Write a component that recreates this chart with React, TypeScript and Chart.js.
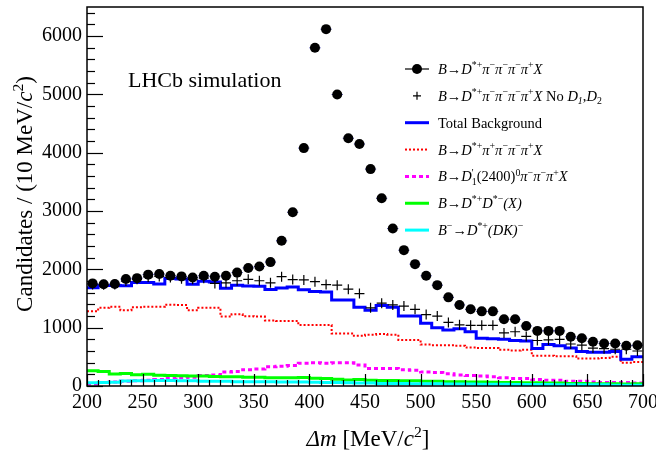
import React, { useEffect, useRef } from "react";
import { Chart, registerables } from "chart.js";

Chart.register(...registerables);

// ---------------- data ----------------
const binCenters = [
  205, 215, 225, 235, 245, 255, 265, 275, 285, 295,
  305, 315, 325, 335, 345, 355, 365, 375, 385, 395,
  405, 415, 425, 435, 445, 455, 465, 475, 485, 495,
  505, 515, 525, 535, 545, 555, 565, 575, 585, 595,
  605, 615, 625, 635, 645, 655, 665, 675, 685, 695,
];
const binEdges = [
  200, 210, 220, 230, 240, 250, 260, 270, 280, 290,
  300, 310, 320, 330, 340, 350, 360, 370, 380, 390,
  400, 410, 420, 430, 440, 450, 460, 470, 480, 490,
  500, 510, 520, 530, 540, 550, 560, 570, 580, 590,
  600, 610, 620, 630, 640, 650, 660, 670, 680, 690, 700,
];
const xTicks = [200, 250, 300, 350, 400, 450, 500, 550, 600, 650, 700];
const yTicks = [0, 1000, 2000, 3000, 4000, 5000, 6000];

// B -> D*+ pi- pi- pi- pi+ X (black dots)
const signalAll = [
  1760, 1745, 1750, 1835, 1850, 1910, 1920, 1890, 1880, 1860,
  1890, 1875, 1890, 1945, 2025, 2050, 2125, 2490, 2980, 4080,
  5800, 6120, 5000, 4250, 4150, 3720, 3220, 2700, 2330, 2090,
  1890, 1730, 1520, 1390, 1315, 1280, 1280, 1145, 1145, 1030,
  945, 945, 945, 845, 820, 760, 730, 730, 690, 700,
];
// same, no D1, D2 (crosses)
const signalNoD1D2 = [
  1740, 1735, 1740, 1800, 1830, 1870, 1880, 1860, 1840, 1830,
  1850, 1760, 1770, 1805, 1830, 1805, 1770, 1875, 1825, 1820,
  1790, 1740, 1730, 1660, 1585, 1340, 1420, 1390, 1370, 1315,
  1225, 1200, 1090, 1050, 1040, 1040, 1040, 910, 930, 850,
  780, 790, 800, 720, 700, 650, 640, 630, 630, 600,
];
// Total background (blue histogram)
const totalBkg = [
  1685, 1725, 1725, 1720, 1775, 1775, 1750, 1845, 1835, 1745,
  1795, 1785, 1675, 1730, 1715, 1712, 1655, 1680, 1700, 1650,
  1620, 1610, 1475, 1475, 1350, 1300, 1380, 1350, 1200, 1200,
  1075, 1000, 960, 980, 930, 820, 810, 800, 780, 770,
  645, 710, 690, 650, 590, 580, 580, 590, 460, 500,
];
// B -> D*+ pi+ pi- pi- pi+ X (red dotted)
const bkgPiPlus = [
  1280, 1340, 1360, 1300, 1350, 1360, 1360, 1395, 1390, 1300,
  1340, 1340, 1190, 1230, 1195, 1190, 1125, 1115, 1115, 1045,
  1045, 1045, 900, 900, 860, 880, 890, 880, 790, 790,
  710, 700, 700, 690, 660, 650, 650, 620, 610, 620,
  520, 520, 510, 510, 470, 470, 480, 500, 400, 410,
];
// B -> D'1(2400)0 pi- pi- pi+ X (magenta dashed)
const bkgD1prime = [
  40, 60, 70, 80, 90, 100, 110, 130, 140, 150,
  180, 190, 240, 250, 280, 290, 330, 340, 350, 390,
  400, 390, 400, 400, 360, 300, 300, 300, 280, 270,
  240, 230, 210, 190, 180, 170, 160, 140, 130, 130,
  110, 100, 100, 80, 80, 70, 60, 60, 60, 50,
];
// B -> D*+ D*- (X) (green)
const bkgDstDst = [
  260, 250, 205, 215, 195, 200, 185, 180, 175, 170,
  170, 165, 160, 160, 150, 150, 140, 140, 140, 145,
  135, 130, 115, 105, 110, 100, 95, 95, 90, 90,
  80, 80, 75, 75, 70, 70, 65, 60, 60, 55,
  55, 50, 50, 45, 45, 40, 40, 40, 35, 40,
];
// B- -> D*+ (DK)- (cyan)
const bkgDK = [
  55, 60, 65, 85, 90, 90, 95, 95, 90, 90,
  80, 80, 80, 75, 75, 75, 75, 70, 70, 70,
  65, 60, 60, 55, 50, 50, 45, 45, 45, 40,
  40, 40, 35, 35, 35, 30, 30, 30, 25, 25,
  25, 25, 20, 20, 20, 20, 20, 15, 15, 15,
];

// text (mini markup: $..$ italic, ^{..} superscript, _{..} subscript)
const legendLabels = [
  "$B$→$D$^{*+}$π$^{−}$π$^{−}$π$^{−}$π$^{+}$X$",
  "$B$→$D$^{*+}$π$^{−}$π$^{−}$π$^{−}$π$^{+}$X$ No $D$_{$1$},$D$_{2}",
  "Total Background",
  "$B$→$D$^{*+}$π$^{+}$π$^{−}$π$^{−}$π$^{+}$X$",
  "$B$→$D$^{'}_{1}(2400)^{0}$π$^{−}$π$^{−}$π$^{+}$X$",
  "$B$→$D$^{*+}$D$^{*−}$(X)$",
  "$B$^{−}→$D$^{*+}$(DK)$^{−}",
];
const xTitle = "$Δm$ [MeV/$c$^{2}]";
const yTitle = "Candidates / (10 MeV/$c$^{2})";
const annotation = "LHCb simulation";

// ---------------- styles ----------------
const FONT = '"Liberation Serif", "Times New Roman", serif';
const BLUE = "#0000ff";
const RED = "#ff0000";
const MAGENTA = "#ff00ff";
const GREEN = "#00ff00";
const CYAN = "#00ffff";

const legendSymbols = [
  { kind: "dotline", color: "#000000", dash: [] as number[], width: 1.2 },
  { kind: "cross", color: "#000000", dash: [] as number[], width: 1.2 },
  { kind: "line", color: BLUE, dash: [] as number[], width: 3 },
  { kind: "line", color: RED, dash: [2, 2], width: 2 },
  { kind: "line", color: MAGENTA, dash: [4, 3], width: 3 },
  { kind: "line", color: GREEN, dash: [] as number[], width: 3 },
  { kind: "line", color: CYAN, dash: [] as number[], width: 3 },
];

// ---------------- rich text ----------------
type Piece = { text: string; italic: boolean; level: number; group: number };

function parseRich(src: string): Piece[] {
  const pieces: Piece[] = [];
  let italic = false;
  let level = 0;
  let group = 0;
  let gid = 0;
  const stack: number[] = [];
  for (let i = 0; i < src.length; i++) {
    const c = src[i];
    if (c === "$") {
      italic = !italic;
      continue;
    }
    if ((c === "^" || c === "_") && src[i + 1] === "{") {
      stack.push(level);
      level = c === "^" ? 1 : -1;
      gid++;
      group = gid;
      i++;
      continue;
    }
    if (c === "}" && stack.length) {
      level = stack.pop() as number;
      group = 0;
      continue;
    }
    const g = level === 0 ? 0 : group;
    const last = pieces[pieces.length - 1];
    if (last && last.italic === italic && last.level === level && last.group === g) last.text += c;
    else pieces.push({ text: c, italic, level, group: g });
  }
  return pieces;
}

function richText(ctx: CanvasRenderingContext2D, src: string, x0: number, y: number, size: number, draw = true): number {
  const pieces = parseRich(src);
  let x = x0;
  let last: { group: number; level: number; start: number; end: number } | null = null;
  let stackEnd = -Infinity;
  for (const p of pieces) {
    const fs = p.level === 0 ? size : size * 0.68;
    ctx.font = `${p.italic ? "italic " : ""}${fs}px ${FONT}`;
    if (p.level === 0) {
      if (stackEnd > x) x = stackEnd;
      stackEnd = -Infinity;
      last = null;
    } else if (!last || last.group !== p.group) {
      if (last && last.level !== p.level) {
        stackEnd = Math.max(stackEnd, last.end);
        x = last.start;
      }
      last = { group: p.group, level: p.level, start: x, end: x };
    }
    const w = ctx.measureText(p.text).width;
    if (draw) {
      const dy = p.level === 1 ? -0.4 * size : p.level === -1 ? 0.22 * size : 0;
      ctx.fillText(p.text, x, y + dy);
    }
    x += w;
    if (p.level !== 0 && last) last.end = x;
  }
  if (stackEnd > x) x = stackEnd;
  return x - x0;
}

// ---------------- plugin ----------------
const decorPlugin = {
  id: "decor",
  beforeDatasetDraw(chart: any, args: any) {
    if (args.index !== 0) return;
    const ctx: CanvasRenderingContext2D = chart.ctx;
    const xs = chart.scales.x;
    const meta = chart.getDatasetMeta(0);
    ctx.save();
    ctx.strokeStyle = "#3a3ab0";
    ctx.lineWidth = 1;
    meta.data.forEach((pt: any, i: number) => {
      const x1 = xs.getPixelForValue(binEdges[i]);
      const x2 = xs.getPixelForValue(binEdges[i + 1]);
      ctx.beginPath();
      ctx.moveTo(x1, pt.y);
      ctx.lineTo(x2, pt.y);
      ctx.stroke();
    });
    ctx.restore();
  },
  afterDraw(chart: any) {
    const ctx: CanvasRenderingContext2D = chart.ctx;
    const { left, right, top, bottom } = chart.chartArea;
    const xs = chart.scales.x;
    const ys = chart.scales.y;
    ctx.save();
    ctx.strokeStyle = "#000";
    ctx.lineWidth = 1.5;
    ctx.setLineDash([]);
    ctx.strokeRect(left, top, right - left, bottom - top);

    // y ticks (major 1000, minor 200)
    ctx.lineWidth = 1.2;
    for (let v = 0; v <= ys.max; v += 200) {
      const py = Math.round(ys.getPixelForValue(v)) + 0.5;
      const len = v % 1000 === 0 ? 16 : 8;
      ctx.beginPath();
      ctx.moveTo(left, py);
      ctx.lineTo(left + len, py);
      ctx.stroke();
    }
    // x ticks (major 50, minor 10)
    for (let v = xs.min; v <= xs.max; v += 10) {
      const px = Math.round(xs.getPixelForValue(v)) + 0.5;
      const len = v % 50 === 0 ? 12 : 6;
      ctx.beginPath();
      ctx.moveTo(px, bottom);
      ctx.lineTo(px, bottom - len);
      ctx.stroke();
    }

    ctx.fillStyle = "#000";
    ctx.textBaseline = "alphabetic";
    ctx.textAlign = "left";

    // x title
    const xtSize = 23;
    const xw = richText(ctx, xTitle, 0, 0, xtSize, false);
    richText(ctx, xTitle, 368 - xw / 2, 446, xtSize, true);

    // y title
    const ytSize = 23;
    const yw = richText(ctx, yTitle, 0, 0, ytSize, false);
    ctx.save();
    ctx.translate(32, 194);
    ctx.rotate(-Math.PI / 2);
    richText(ctx, yTitle, -yw / 2, 0, ytSize, true);
    ctx.restore();

    // annotation
    ctx.font = `22px ${FONT}`;
    ctx.fillText(annotation, 128, 87);

    // legend
    const lgSize = 14.5;
    const symX0 = 405;
    const symX1 = 429;
    const textX = 438;
    legendLabels.forEach((label, i) => {
      const cy = 69 + 26.85 * i;
      const s = legendSymbols[i];
      ctx.save();
      ctx.strokeStyle = s.color;
      ctx.fillStyle = s.color;
      ctx.lineWidth = s.width;
      ctx.setLineDash(s.dash);
      if (s.kind === "line" || s.kind === "dotline") {
        ctx.beginPath();
        ctx.moveTo(symX0, cy);
        ctx.lineTo(symX1, cy);
        ctx.stroke();
      }
      if (s.kind === "dotline") {
        ctx.beginPath();
        ctx.arc((symX0 + symX1) / 2, cy, 5, 0, Math.PI * 2);
        ctx.fill();
      }
      if (s.kind === "cross") {
        const cx = (symX0 + symX1) / 2;
        ctx.beginPath();
        ctx.moveTo(cx - 4, cy);
        ctx.lineTo(cx + 4, cy);
        ctx.moveTo(cx, cy - 4);
        ctx.lineTo(cx, cy + 4);
        ctx.stroke();
      }
      ctx.restore();
      ctx.fillStyle = "#000";
      richText(ctx, label, textX, cy + 5, lgSize, true);
    });
    ctx.restore();
  },
};

const histPoints = (vals: number[]) =>
  binEdges.map((e, i) => ({ x: e, y: vals[Math.min(i, vals.length - 1)] }));

export default function App() {
  const canvasRef = useRef<HTMLCanvasElement | null>(null);

  useEffect(() => {
    if (!canvasRef.current) return;
    const tickFont = { family: FONT, size: 20 };
    const chart = new Chart(canvasRef.current, {
      type: "line",
      data: {
        datasets: [
          {
            label: "all",
            data: binCenters.map((x, i) => ({ x, y: signalAll[i] })),
            showLine: false,
            pointStyle: "circle",
            pointRadius: 5,
            pointBackgroundColor: "#000",
            pointBorderColor: "#000",
            pointBorderWidth: 0,
            order: 0,
          },
          {
            label: "noD1D2",
            data: binCenters.map((x, i) => ({ x, y: signalNoD1D2[i] })),
            showLine: false,
            pointStyle: "cross",
            pointRadius: 5,
            pointBorderColor: "#000",
            pointBorderWidth: 1.2,
            order: 1,
          },
          {
            label: "total",
            data: histPoints(totalBkg),
            stepped: true,
            borderColor: BLUE,
            borderWidth: 3,
            pointRadius: 0,
            fill: false,
            order: 2,
          },
          {
            label: "pipl",
            data: histPoints(bkgPiPlus),
            stepped: true,
            borderColor: RED,
            borderWidth: 2,
            borderDash: [2, 2],
            pointRadius: 0,
            fill: false,
            order: 6,
          },
          {
            label: "d1p",
            data: histPoints(bkgD1prime),
            stepped: true,
            borderColor: MAGENTA,
            borderWidth: 3,
            borderDash: [4, 3],
            pointRadius: 0,
            fill: false,
            order: 5,
          },
          {
            label: "dstdst",
            data: histPoints(bkgDstDst),
            stepped: true,
            borderColor: GREEN,
            borderWidth: 3,
            pointRadius: 0,
            fill: false,
            order: 4,
          },
          {
            label: "dk",
            data: histPoints(bkgDK),
            stepped: true,
            borderColor: CYAN,
            borderWidth: 3,
            pointRadius: 0,
            fill: false,
            order: 3,
          },
        ],
      },
      options: {
        animation: false,
        responsive: false,
        maintainAspectRatio: false,
        layout: { padding: { left: 0, top: 7, right: 13, bottom: 0 } },
        plugins: { legend: { display: false }, tooltip: { enabled: false } },
        scales: {
          x: {
            type: "linear",
            min: 200,
            max: 700,
            afterBuildTicks: (s: any) => {
              s.ticks = xTicks.map((v) => ({ value: v }));
            },
            afterFit: (s: any) => {
              s.height = 70;
              s.paddingLeft = 0;
              s.paddingRight = 0;
            },
            ticks: {
              font: tickFont,
              color: "#000",
              padding: 5,
              maxRotation: 0,
              autoSkip: false,
              callback: (v: any) => String(v),
            },
            grid: { display: false, drawTicks: false },
            border: { display: false },
          },
          y: {
            type: "linear",
            min: 0,
            max: 6500,
            afterBuildTicks: (s: any) => {
              s.ticks = yTicks.map((v) => ({ value: v }));
            },
            afterFit: (s: any) => {
              s.width = 87;
              s.paddingTop = 0;
              s.paddingBottom = 0;
            },
            ticks: {
              font: tickFont,
              color: "#000",
              padding: 5,
              autoSkip: false,
              callback: (v: any) => String(v),
            },
            grid: { display: false, drawTicks: false },
            border: { display: false },
          },
        },
      },
      plugins: [decorPlugin],
    } as any);
    return () => chart.destroy();
  }, []);

  return (
    <div style={{ position: "absolute", left: 0, top: 0, width: 656, height: 456, background: "#fff" }}>
      <canvas ref={canvasRef} width={656} height={456} style={{ display: "block" }} />
    </div>
  );
}
